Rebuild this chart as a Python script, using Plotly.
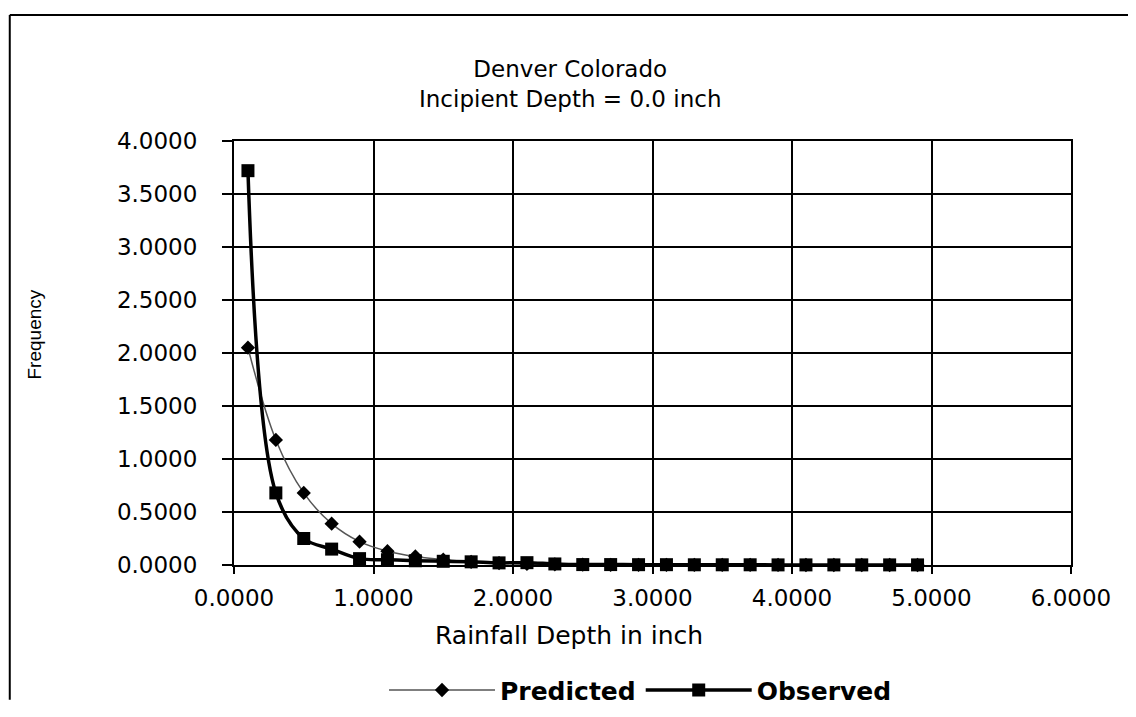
import plotly.graph_objects as go

# Data
depth = [0.1, 0.3, 0.5, 0.7, 0.9, 1.1, 1.3, 1.5, 1.7, 1.9, 2.1, 2.3, 2.5,
         2.7, 2.9, 3.1, 3.3, 3.5, 3.7, 3.9, 4.1, 4.3, 4.5, 4.7, 4.9]
predicted = [2.05, 1.18, 0.68, 0.39, 0.22, 0.13, 0.08, 0.05, 0.03, 0.018, 0.010,
             0.006, 0.004, 0.002, 0.0015, 0.001, 0.0008, 0.0005, 0.0004, 0.0003,
             0.0002, 0.0001, 0.0001, 0.0001, 0.0001]
observed = [3.72, 0.68, 0.25, 0.15, 0.06, 0.05, 0.04, 0.035, 0.03, 0.02, 0.022,
            0.01, 0.004, 0.004, 0.003, 0.003, 0.002, 0.002, 0.002, 0.001,
            0.001, 0.001, 0.001, 0.001, 0.001]
x_ticks = [0, 1, 2, 3, 4, 5, 6]
y_ticks = [0, 0.5, 1.0, 1.5, 2.0, 2.5, 3.0, 3.5, 4.0]

W, H = 1136, 717

# map target picture pixels to figure pixels (page offset / capture scale)
def fx(v):
    return v - 7.5

def fy(v):
    v = 140 + (v - 140) * 1.0118
    return (v - 9.6) / 0.9814

L, R = fx(233), fx(1071)
T, B = fy(140), fy(570)

def px(v):
    return (fx(v) - L) / (R - L)

def py(v):
    return (B - fy(v)) / (B - T)

fig = go.Figure()
fig.add_trace(go.Scatter(
    x=depth, y=predicted, name="Predicted", mode="lines+markers",
    line=dict(color="#555555", width=1.5, shape="spline"),
    marker=dict(symbol="diamond", size=11, color="black"),
    cliponaxis=False,
))
fig.add_trace(go.Scatter(
    x=depth, y=observed, name="Observed", mode="lines+markers",
    line=dict(color="black", width=3.5, shape="spline"),
    marker=dict(symbol="square", size=13, color="black"),
    cliponaxis=False,
))

tickfont = dict(family="DejaVu Sans", size=23, color="black")

fig.update_layout(
    width=W, height=H,
    margin=dict(l=L, r=W - R, t=T, b=H - B),
    paper_bgcolor="white", plot_bgcolor="white",
    showlegend=True,
    legend=dict(orientation="h", x=px(640), y=py(697), xanchor="center",
                yanchor="middle", itemwidth=106,
                font=dict(family="DejaVu Sans", size=25, color="black", weight="bold")),
    xaxis=dict(range=[0, 6], tickvals=x_ticks, tickformat=".4f",
               showgrid=True, gridcolor="black", gridwidth=2,
               showline=True, linecolor="black", linewidth=2, mirror=True,
               ticks="outside", ticklen=7, tickwidth=2, tickcolor="black",
               tickfont=tickfont, zeroline=False, ticklabelstandoff=4),
    yaxis=dict(range=[0, 4], tickvals=y_ticks, tickformat=".4f",
               showgrid=True, gridcolor="black", gridwidth=2,
               showline=True, linecolor="black", linewidth=2, mirror=True,
               ticks="outside", ticklen=10, tickwidth=2, tickcolor="black",
               tickfont=tickfont, zeroline=False, ticklabelstandoff=20),
    annotations=[
        dict(text="Denver Colorado<br>Incipient Depth = 0.0 inch",
             xref="paper", yref="paper", x=px(569), y=py(82),
             xanchor="center", yanchor="middle", showarrow=False,
             font=dict(family="DejaVu Sans", size=23, color="black")),
        dict(text="Rainfall Depth in inch", xref="paper", yref="paper",
             x=px(568), y=py(641), xanchor="center", yanchor="middle",
             showarrow=False,
             font=dict(family="DejaVu Sans", size=25, color="black")),
        dict(text="Frequency", xref="paper", yref="paper",
             x=px(33), y=py(336), xanchor="center", yanchor="middle",
             textangle=-90, showarrow=False,
             font=dict(family="Liberation Sans", size=19, color="black")),
    ],
    shapes=[
        dict(type="line", xref="paper", yref="paper",
             x0=(1 - L) / (R - L), x1=(W - L) / (R - L),
             y0=(B - 1) / (B - T), y1=(B - 1) / (B - T),
             line=dict(color="black", width=2)),
        dict(type="line", xref="paper", yref="paper",
             x0=(1 - L) / (R - L), x1=(1 - L) / (R - L),
             y0=(B - 1) / (B - T), y1=(B - H) / (B - T),
             line=dict(color="black", width=2)),
    ],
)

fig.write_html("out.html")
